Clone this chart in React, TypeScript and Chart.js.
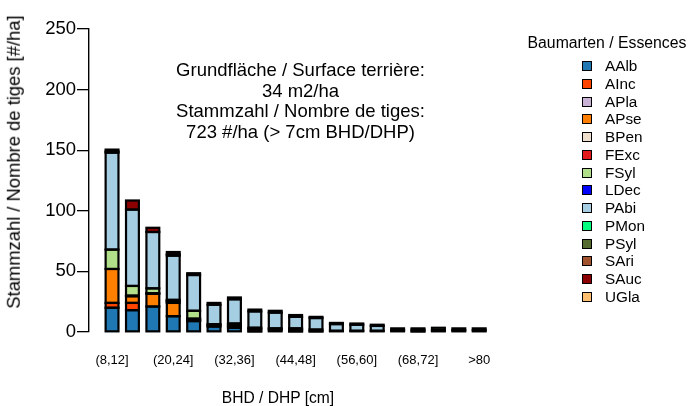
import React, { useEffect, useRef } from "react";
import { Chart, registerables } from "chart.js";

Chart.register(...registerables);

const FONT = '"Liberation Sans", Arial, Helvetica, sans-serif';

const categories = [
  "(8,12]", "(12,16]", "(16,20]", "(20,24]", "(24,28]", "(28,32]", "(32,36]",
  "(36,40]", "(40,44]", "(44,48]", "(48,52]", "(52,56]", "(56,60]", "(60,64]",
  "(64,68]", "(68,72]", "(72,76]", "(76,80]", ">80",
];
const labeledTickIndex = [0, 3, 6, 9, 12, 15, 18];
const yTickValues = [0, 50, 100, 150, 200, 250];

const species = ["AAlb", "AInc", "APla", "APse", "BPen", "FExc", "FSyl", "LDec", "PAbi", "PMon", "PSyl", "SAri", "SAuc", "UGla"];
const speciesColors = ["#1F78B4", "#FF4500", "#CAB2D6", "#FF7F00", "#EEDFCC", "#E31A1C", "#B2DF8A", "#0000FF", "#A6CEE3", "#00FF7F", "#556B2F", "#A0522D", "#8B0000", "#FDBF6F"];

const AAlb = [20, 18, 21, 13, 9, 4.5, 3.5, 0.5, 2, 0.5, 0.5, 0, 0, 0, 0, 0, 0, 0, 0];
const AInc = [4, 6, 0, 0, 0.5, 0, 0, 0, 0, 0, 0, 0, 0, 0, 0, 0, 0, 0, 0];
const APla = [0, 0, 0, 0, 0, 0, 0, 0, 0, 0, 0, 0, 0, 0, 0, 0, 0, 0, 0];
const APse = [28, 5.5, 10.5, 11, 1, 0, 0, 0, 0, 0, 0, 0, 0, 0, 0, 0, 0, 0, 0];
const BPen = [0, 0, 0, 1, 0, 0, 1, 0, 0, 0, 0, 0, 0, 0, 0, 0, 0, 0, 0];
const FExc = [0, 0.5, 0.5, 1, 0.5, 1, 1.5, 2, 1, 1.5, 1.5, 1, 1, 1, 1.5, 0.5, 1.5, 1.5, 1.5];
const FSyl = [16, 8, 4, 0, 6.5, 0, 1, 0, 0, 0, 0, 0, 0, 0, 0, 0, 0, 0, 0];
const LDec = [0, 0, 0, 0.5, 0, 1, 0, 1, 0, 1, 0, 0, 0, 0, 0, 0, 0, 0, 0];
const PAbi = [80, 63, 46.5, 36.5, 29.5, 16, 20, 13.5, 13, 9.5, 9.5, 5.5, 5, 4, 0, 1.5, 0, 0, 0];
const PMon = [0, 0, 0, 0, 0, 0, 0, 0, 0, 0, 0, 0, 0, 0, 0, 0, 0, 0, 0];
const PSyl = [0, 0, 0, 1, 0, 1.5, 1.5, 1.5, 1.5, 1.5, 1, 1, 1, 1, 1.5, 1, 2, 1.5, 1.5];
const SAri = [1, 0, 0, 0, 0, 0, 0, 0, 0, 0, 0, 0, 0, 0, 0, 0, 0, 0, 0];
const SAuc = [1.5, 7.5, 3.5, 2, 1.5, 0, 0, 0, 0, 0, 0, 0, 0, 0, 0, 0, 0, 0, 0];
const UGla = [0, 0, 0, 0, 0, 0, 0, 0, 0, 0, 0, 0, 0, 0, 0, 0, 0, 0, 0];

const seriesValues = [AAlb, AInc, APla, APse, BPen, FExc, FSyl, LDec, PAbi, PMon, PSyl, SAri, SAuc, UGla];

const annotationLines = [
  "Grundfläche / Surface terrière:",
  "34 m2/ha",
  "Stammzahl / Nombre de tiges:",
  "723 #/ha (> 7cm BHD/DHP)",
];

// Strokes each bar segment outline centred on its edges (like base R rect borders).
const centeredBorders = {
  id: "centeredBorders",
  afterDatasetsDraw(chart: any) {
    const ctx = chart.ctx;
    ctx.save();
    ctx.strokeStyle = "#000";
    ctx.lineWidth = 2.2;
    ctx.lineJoin = "miter";
    chart.data.datasets.forEach((ds: any, di: number) => {
      const meta = chart.getDatasetMeta(di);
      if (meta.hidden) return;
      meta.data.forEach((el: any, i: number) => {
        const raw = ds.data[i];
        if (!raw || !raw.y) return;
        const { x, y, base, width } = el.getProps(["x", "y", "base", "width"], true);
        const top = Math.min(y, base);
        const h = Math.abs(base - y);
        ctx.strokeRect(x - width / 2, top, width, h);
      });
    });
    ctx.restore();
  },
};

export default function App() {
  const ref = useRef<HTMLCanvasElement>(null);

  useEffect(() => {
    document.body.style.margin = "0";
    const canvas = ref.current;
    if (!canvas) return;
    const chart = new Chart(canvas, {
      type: "bar",
      data: {
        datasets: species.map((name, k) => ({
          label: name,
          data: seriesValues[k].map((v, i) => ({ x: i, y: v })),
          backgroundColor: speciesColors[k],
          borderWidth: 0,
          barPercentage: 0.63,
          categoryPercentage: 1,
        })),
      },
      options: {
        animation: false,
        responsive: false,
        maintainAspectRatio: false,
        layout: { padding: { left: 0, right: 199.6, top: 29, bottom: 0 } },
        plugins: { legend: { display: false }, tooltip: { enabled: false }, title: { display: false } },
        scales: {
          x: {
            type: "linear",
            offset: false,
            stacked: true,
            min: -1.13,
            max: 18.5,
            grid: { display: false, drawTicks: false, offset: false },
            border: { display: false },
            ticks: {
              autoSkip: false,
              maxRotation: 0,
              padding: 21,
              color: "#000",
              font: { size: 13, family: FONT },
              callback: (v: any) => categories[Number(v)] ?? "",
            },
            afterBuildTicks: (s: any) => {
              s.ticks = labeledTickIndex.map((v) => ({ value: v }));
            },
            afterFit: (s: any) => {
              s.height = 74;
            },
          },
          y: {
            stacked: true,
            min: 0,
            max: 250,
            grid: { drawOnChartArea: false, drawTicks: true, tickLength: 12, color: "#000", lineWidth: 1.3 },
            border: { display: true, color: "#000", width: 1.4 },
            ticks: {
              stepSize: 50,
              padding: 1,
              color: "#000",
              font: { size: 18.5, family: FONT },
            },
            afterBuildTicks: (s: any) => {
              s.ticks = yTickValues.map((v) => ({ value: v }));
            },
            afterFit: (s: any) => {
              s.width = 89;
            },
          },
        },
      },
      plugins: [centeredBorders],
    });
    return () => chart.destroy();
  }, []);

  const abs: React.CSSProperties = { position: "absolute", whiteSpace: "nowrap", fontFamily: FONT, color: "#000", lineHeight: 1 };

  return (
    <div style={{ position: "relative", width: 689, height: 406, background: "#fff", overflow: "hidden" }}>
      <canvas ref={ref} width={689} height={406} style={{ position: "absolute", left: 0, top: 0, width: 689, height: 406 }} />
      <div
        style={{
          ...abs,
          left: 14,
          top: 161.5,
          fontSize: 18.4,
          transform: "translate(-50%, -50%) rotate(-90deg)",
        }}
      >
        Stammzahl / Nombre de tiges [#/ha]
      </div>
      <div style={{ ...abs, left: 278, top: 397.7, fontSize: 15.6, transform: "translate(-50%, -50%)" }}>BHD / DHP [cm]</div>
      <div style={{ ...abs, left: 0, width: 601, top: 60, fontSize: 18.5, lineHeight: "20.5px", textAlign: "center" }}>
        {annotationLines.map((l) => (
          <div key={l}>{l}</div>
        ))}
      </div>
      <div style={{ ...abs, left: 607, top: 43.3, fontSize: 15.8, transform: "translate(-50%, -50%)" }}>Baumarten / Essences</div>
      {species.map((name, k) => {
        const cy = 66 + 17.75 * k;
        return (
          <React.Fragment key={name}>
            <div
              style={{
                position: "absolute",
                left: 582,
                top: cy - 5,
                width: 10,
                height: 10,
                boxSizing: "border-box",
                border: "1.5px solid #000",
                background: speciesColors[k],
              }}
            />
            <div style={{ ...abs, left: 605, top: cy, fontSize: 15.3, transform: "translateY(-50%)" }}>{name}</div>
          </React.Fragment>
        );
      })}
    </div>
  );
}
